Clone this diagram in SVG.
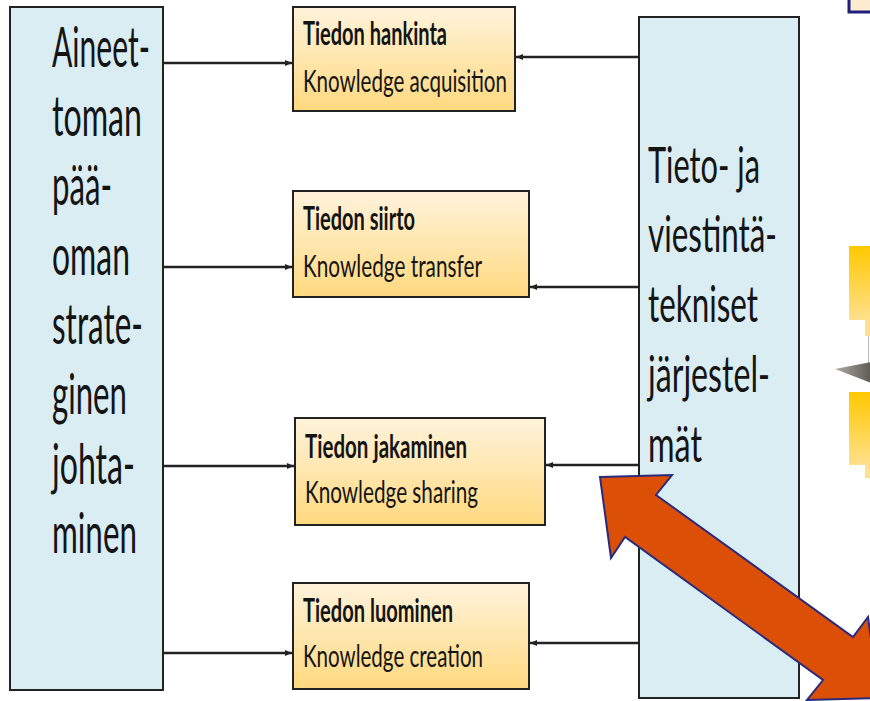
<svg xmlns="http://www.w3.org/2000/svg" width="870" height="701" viewBox="0 0 870 701">
<style>
.big{fill:#DAEDF3;stroke:#222;stroke-width:2}
.kbox{fill:url(#yg);stroke:#222;stroke-width:2}
.t{font-family:Lato,"Liberation Sans",sans-serif;fill:#141414}
.bt{font-size:56px}
.rt{font-size:51px}
.h{font-size:32px;font-weight:bold}
.s{font-size:30px}
.c{stroke:#222;stroke-width:2.5;fill:none;marker-end:url(#ah)}
</style>
<defs>
<linearGradient id="yg" x1="0" y1="0" x2="0" y2="1">
<stop offset="0" stop-color="#FFF3DC"/>
<stop offset="1" stop-color="#FFD97F"/>
</linearGradient>
<linearGradient id="gold" x1="0" y1="0" x2="0" y2="1">
<stop offset="0" stop-color="#FFC800"/>
<stop offset="1" stop-color="#FFE08C"/>
</linearGradient>
<linearGradient id="grey" x1="0" y1="0" x2="1" y2="0">
<stop offset="0" stop-color="#B0ACA4"/>
<stop offset="1" stop-color="#5E5A54"/>
</linearGradient>
<marker id="ah" markerWidth="8" markerHeight="8" refX="7" refY="4" orient="auto" markerUnits="userSpaceOnUse">
<path d="M0,1 L7,4 L0,7 Z" fill="#222"/>
</marker>
</defs>

<g id="decor">
<rect x="849" y="-5" width="30" height="17" fill="#FDEBD0" stroke="#1F1F7A" stroke-width="3"/>
<rect x="849" y="246" width="22" height="74" fill="url(#gold)"/>
<rect x="865" y="320" width="6" height="16" fill="#FFE08C"/>
<line x1="868.5" y1="336" x2="868.5" y2="363" stroke="#BBB" stroke-width="1"/>
<polygon points="835,369 871,362 871,383" fill="url(#grey)"/>
<rect x="849" y="392" width="22" height="73" fill="url(#gold)"/>
<rect x="865" y="465" width="6" height="13" fill="#FFE08C"/>
</g>

<g id="left-node">
<rect class="big" x="10" y="7" width="153" height="683"/>
<text class="t bt" x="52" y="67" textLength="98" lengthAdjust="spacingAndGlyphs">Aineet-</text>
<text class="t bt" x="52" y="136" textLength="90" lengthAdjust="spacingAndGlyphs">toman</text>
<text class="t bt" x="52" y="205" textLength="60" lengthAdjust="spacingAndGlyphs">pää-</text>
<text class="t bt" x="52" y="275" textLength="78" lengthAdjust="spacingAndGlyphs">oman</text>
<text class="t bt" x="52" y="344" textLength="91" lengthAdjust="spacingAndGlyphs">strate-</text>
<text class="t bt" x="52" y="414" textLength="75" lengthAdjust="spacingAndGlyphs">ginen</text>
<text class="t bt" x="52" y="484" textLength="83" lengthAdjust="spacingAndGlyphs">johta-</text>
<text class="t bt" x="52" y="553" textLength="85" lengthAdjust="spacingAndGlyphs">minen</text>
</g>

<g id="right-node">
<rect class="big" x="639" y="17" width="160" height="681"/>
<text class="t rt" x="648" y="183" textLength="112" lengthAdjust="spacingAndGlyphs">Tieto- ja</text>
<text class="t rt" x="648" y="252" textLength="129" lengthAdjust="spacingAndGlyphs">viestintä-</text>
<text class="t rt" x="648" y="322" textLength="110" lengthAdjust="spacingAndGlyphs">tekniset</text>
<text class="t rt" x="648" y="392" textLength="122" lengthAdjust="spacingAndGlyphs">järjestel-</text>
<text class="t rt" x="648" y="462" textLength="54" lengthAdjust="spacingAndGlyphs">mät</text>
</g>

<g id="acquisition">
<rect class="kbox" x="293" y="7" width="222" height="104"/>
<text class="t h" x="303" y="45" textLength="144" lengthAdjust="spacingAndGlyphs">Tiedon hankinta</text>
<text class="t s" x="303" y="92" textLength="204" lengthAdjust="spacingAndGlyphs">Knowledge acquisition</text>
</g>

<g id="transfer">
<rect class="kbox" x="293" y="191" width="236" height="106"/>
<text class="t h" x="303" y="230" textLength="112" lengthAdjust="spacingAndGlyphs">Tiedon siirto</text>
<text class="t s" x="303" y="277" textLength="179" lengthAdjust="spacingAndGlyphs">Knowledge transfer</text>
</g>

<g id="sharing">
<rect class="kbox" x="295" y="418" width="250" height="107"/>
<text class="t h" x="305" y="458" textLength="162" lengthAdjust="spacingAndGlyphs">Tiedon jakaminen</text>
<text class="t s" x="305" y="503" textLength="173" lengthAdjust="spacingAndGlyphs">Knowledge sharing</text>
</g>

<g id="creation">
<rect class="kbox" x="293" y="583" width="236" height="106"/>
<text class="t h" x="303" y="622" textLength="150" lengthAdjust="spacingAndGlyphs">Tiedon luominen</text>
<text class="t s" x="303" y="667" textLength="180" lengthAdjust="spacingAndGlyphs">Knowledge creation</text>
</g>

<g id="connectors">
<line class="c" x1="164" y1="63" x2="292" y2="63"/>
<line class="c" x1="164" y1="267" x2="292" y2="267"/>
<line class="c" x1="164" y1="466" x2="294" y2="466"/>
<line class="c" x1="164" y1="653" x2="292" y2="653"/>
<line class="c" x1="638" y1="57" x2="516" y2="57"/>
<line class="c" x1="638" y1="287" x2="530" y2="287"/>
<line class="c" x1="638" y1="465" x2="546" y2="465"/>
<line class="c" x1="638" y1="643" x2="530" y2="643"/>
</g>

<g id="double-arrow">
<polygon points="600,477 672,475 656,495 853,637 868,617 879,698 807,700 823,680 625,537 611,558" fill="#DB4F06" stroke="#2A2A7E" stroke-width="2" stroke-linejoin="miter"/>
</g>
</svg>
